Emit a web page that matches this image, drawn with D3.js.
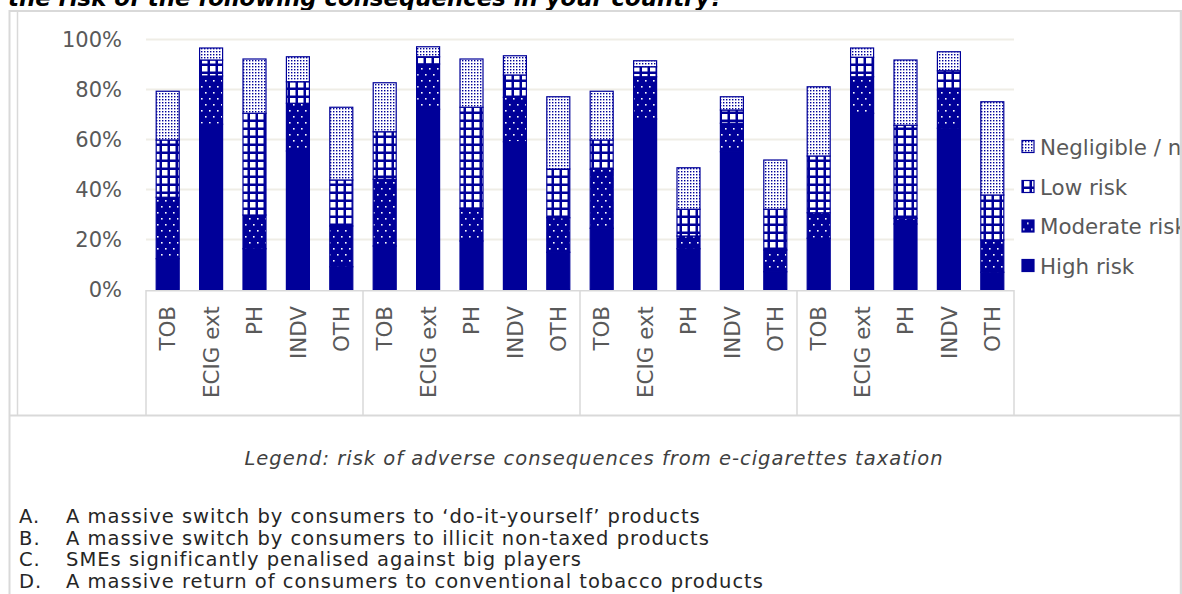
<!DOCTYPE html>
<html>
<head>
<meta charset="utf-8">
<script src="https://cdn.jsdelivr.net/npm/d3@7"></script>
<style>
  html, body { margin: 0; padding: 0; background: #fff; }
  svg { display: block; }
  text { font-family: "DejaVu Sans", Verdana, sans-serif; }
</style>
</head>
<body>
<script>
// Product categories repeated for each of the four consequences (A–D)
const categories = ["TOB", "ECIG ext", "PH", "INDV", "OTH"];
const consequences = ["A", "B", "C", "D"];

// Share of respondents per risk level, in percent (one value per bar, A then B, C, D)
const highRisk       = [12.3, 66.1, 16.3, 55.4,  9.1,  17.4, 72.1, 19.4, 59.1, 14.9,  24.5, 68.2, 16.3, 55.1,  7.1,  20.5, 70.5, 26.2, 64.5,  6.9];
const moderateRisk   = [24.6, 19.3, 13.5, 19.1, 16.3,  26.7, 18.1, 13.1, 17.8, 13.8,  23.6, 16.9,  5.1, 11.4,  8.7,  10.2, 14.6,  2.3, 15.3, 12.9];
const lowRisk        = [22.9,  6.4, 40.7,  8.6, 18.4,  19.0,  2.9, 40.4,  8.9, 19.5,  11.7,  4.0, 10.7,  5.3, 16.3,  22.7,  7.8, 37.2,  7.7, 18.0];
const negligibleRisk = [19.5,  4.8, 21.7, 10.0, 29.1,  19.6,  4.0, 19.3,  7.7, 28.9,  19.5,  2.4, 16.6,  5.3, 19.7,  27.7,  3.7, 26.1,  7.6, 37.3];

const seriesNames = ["High risk", "Moderate risk", "Low risk", "Negligible / no risk"];
const yTicks = [0, 0.2, 0.4, 0.6, 0.8, 1.0];

const legendNote = "Legend: risk of adverse consequences from e-cigarettes taxation";
const consequenceTexts = [
  "A massive switch by consumers to \u2018do-it-yourself\u2019 products",
  "A massive switch by consumers to illicit non-taxed products",
  "SMEs significantly penalised against big players",
  "A massive return of consumers to conventional tobacco products"
];
const titleText = "the risk of the following consequences in your country?";

// ---------------------------------------------------------------------------
const W = 1182, H = 594;
const BLUE = "#000099";
const GRID = "#efede6";
const RULE = "#d9d9d9";
const LABEL = "#595959";
const FONT = 21.4;
const NOTE_FONT = 19.5;

const svg = d3.select("body").append("svg")
  .attr("width", W).attr("height", H);

svg.append("rect").attr("width", W).attr("height", H).attr("fill", "#fff");

// Fill patterns for the four risk levels
const defs = svg.append("defs");

const pModerate = defs.append("pattern")
  .attr("id", "pat-moderate").attr("patternUnits", "userSpaceOnUse")
  .attr("width", 8).attr("height", 12);
pModerate.append("rect").attr("width", 8).attr("height", 12).attr("fill", BLUE);
pModerate.append("rect").attr("x", 1).attr("y", 2).attr("width", 1.6).attr("height", 1.6).attr("fill", "#fff");
pModerate.append("rect").attr("x", 5).attr("y", 8).attr("width", 1.6).attr("height", 1.6).attr("fill", "#fff");

const pLow = defs.append("pattern")
  .attr("id", "pat-low").attr("patternUnits", "userSpaceOnUse")
  .attr("width", 8).attr("height", 8);
pLow.append("rect").attr("width", 8).attr("height", 8).attr("fill", BLUE);
pLow.append("rect").attr("x", 2).attr("y", 2).attr("width", 5.5).attr("height", 5.5).attr("fill", "#fff");

const pNeg = defs.append("pattern")
  .attr("id", "pat-negligible").attr("patternUnits", "userSpaceOnUse")
  .attr("width", 3).attr("height", 3);
pNeg.append("rect").attr("width", 3).attr("height", 3).attr("fill", "#fff");
pNeg.append("rect").attr("x", 0).attr("y", 0).attr("width", 1.4).attr("height", 1.4).attr("fill", BLUE);

const seriesFills = [BLUE, "url(#pat-moderate)", "url(#pat-low)", "url(#pat-negligible)"];

// Heading line above the table
svg.append("text")
  .attr("x", 8).attr("y", 6)
  .attr("font-size", 22.8).attr("font-weight", "bold").attr("font-style", "italic")
  .attr("fill", "#000")
  .text(titleText);

// ---------------------------------------------------------------------------
// Scales
const bars = [];
consequences.forEach((c, gi) => {
  categories.forEach((cat, ci) => {
    const i = gi * categories.length + ci;
    bars.push({
      key: i, group: c, category: cat,
      "High risk": highRisk[i] / 100,
      "Moderate risk": moderateRisk[i] / 100,
      "Low risk": lowRisk[i] / 100,
      "Negligible / no risk": negligibleRisk[i] / 100
    });
  });
});

const x = d3.scaleBand()
  .domain(bars.map(d => d.key))
  .range([146, 1014])
  .paddingInner(0.47)
  .paddingOuter(0.235);

const y = d3.scaleLinear().domain([0, 1]).range([289.5, 39.5]);

// Gridlines
svg.append("g").selectAll("line")
  .data(yTicks.filter(t => t > 0))
  .join("line")
  .attr("x1", 146).attr("x2", 1014)
  .attr("y1", d => y(d)).attr("y2", d => y(d))
  .attr("stroke", GRID).attr("stroke-width", 2);

// Y axis labels
const yAxis = d3.axisLeft(y).tickValues(yTicks).tickFormat(d3.format(".0%")).tickSize(0).tickPadding(0);
const yg = svg.append("g").attr("transform", "translate(122,0)").call(yAxis);
yg.select(".domain").remove();
yg.selectAll("text")
  .attr("font-family", "DejaVu Sans, Verdana, sans-serif")
  .attr("font-size", 21).attr("fill", LABEL);

// Stacked bars
const stack = d3.stack().keys(seriesNames);
const layers = stack(bars);

svg.append("g").selectAll("g")
  .data(layers)
  .join("g")
  .attr("fill", (d, i) => seriesFills[i])
  .selectAll("rect")
  .data(d => d)
  .join("rect")
  .attr("x", d => x(d.data.key))
  .attr("width", x.bandwidth())
  .attr("y", d => y(d[1]))
  .attr("height", d => y(d[0]) - y(d[1]))
  .attr("stroke", BLUE).attr("stroke-width", 1.2);

// Category axis: baseline, group separators and rotated labels
const step = x.step();
const axisLeft = x.range()[0];
svg.append("line")
  .attr("x1", axisLeft).attr("x2", x.range()[1])
  .attr("y1", 290.7).attr("y2", 290.7)
  .attr("stroke", RULE).attr("stroke-width", 1.5);

svg.append("g").selectAll("line")
  .data(d3.range(consequences.length + 1))
  .join("line")
  .attr("x1", g => axisLeft + g * categories.length * step)
  .attr("x2", g => axisLeft + g * categories.length * step)
  .attr("y1", 290).attr("y2", 415)
  .attr("stroke", RULE).attr("stroke-width", 1.5);

svg.append("g").selectAll("text")
  .data(bars)
  .join("text")
  .attr("transform", d => `translate(${x(d.key) + x.bandwidth() / 2},306) rotate(-90)`)
  .attr("dy", "0.36em")
  .attr("text-anchor", "end")
  .attr("font-size", FONT).attr("fill", LABEL)
  .text(d => d.category);

// Legend (top entry is the last series)
const legendY = [147, 187, 226.5, 266];
const legend = svg.append("g").selectAll("g")
  .data(seriesNames.slice().reverse())
  .join("g")
  .attr("transform", (d, i) => `translate(1022,${legendY[i]})`);
legend.append("rect")
  .attr("x", 0).attr("y", -6.5).attr("width", 12).attr("height", 12)
  .attr("fill", d => seriesFills[seriesNames.indexOf(d)])
  .attr("stroke", BLUE).attr("stroke-width", 1.2);
legend.append("text")
  .attr("x", 18).attr("dy", "0.35em")
  .attr("font-size", FONT).attr("fill", LABEL)
  .text(d => d);

// Table frame around the chart and the notes cell
const frame = svg.append("g").attr("fill", "none").attr("stroke", RULE);
frame.append("line").attr("x1", 9).attr("x2", 1182).attr("y1", 11).attr("y2", 11).attr("stroke-width", 2);
frame.append("line").attr("x1", 9.5).attr("x2", 9.5).attr("y1", 10).attr("y2", 594).attr("stroke-width", 2);
frame.append("line").attr("x1", 1181).attr("x2", 1181).attr("y1", 10).attr("y2", 594).attr("stroke-width", 2.5);
frame.append("line").attr("x1", 17.5).attr("x2", 17.5).attr("y1", 11).attr("y2", 415).attr("stroke-width", 1.5);
frame.append("line").attr("x1", 9).attr("x2", 1181).attr("y1", 415.5).attr("y2", 415.5).attr("stroke-width", 2);

// Notes below the chart
svg.append("text")
  .attr("x", 594).attr("y", 465)
  .attr("text-anchor", "middle")
  .attr("font-size", NOTE_FONT).attr("letter-spacing", 1)
  .attr("font-style", "italic").attr("fill", "#404040")
  .text(legendNote);

const notes = svg.append("g").selectAll("g")
  .data(consequenceTexts)
  .join("g")
  .attr("transform", (d, i) => `translate(0,${523 + i * 21.5})`)
  .attr("font-size", NOTE_FONT).attr("letter-spacing", 1).attr("fill", "#262626");
notes.append("text").attr("x", 19).text((d, i) => consequences[i] + ".");
notes.append("text").attr("x", 66).text(d => d);
</script>
</body>
</html>
